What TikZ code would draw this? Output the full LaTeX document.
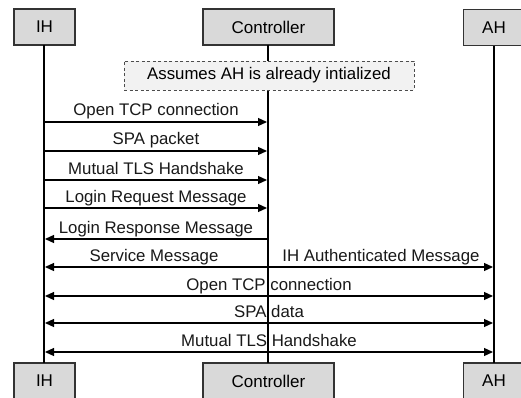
\documentclass[tikz,border=0pt]{standalone}
\usepackage{fontspec}
\setmainfont{Liberation Sans}
\usetikzlibrary{arrows.meta}
\begin{document}
\begin{tikzpicture}[x=1pt,y=-1pt,
  actor/.style={draw=black!80,line width=1.1pt,fill=black!15,minimum width=61pt,minimum height=36pt,inner sep=0pt,font=\fontsize{17}{20}\selectfont},
  lifeline/.style={line width=1.8pt,black},
  msg/.style={line width=1.2pt,-{Triangle[length=9pt,width=8pt]}},
  bimsg/.style={line width=1.2pt,{Triangle[length=9pt,width=8pt]}-{Triangle[length=9pt,width=8pt]}},
  lbl/.style={anchor=base,inner sep=0pt,font=\fontsize{16.8}{20}\selectfont,text=black!90},
  note/.style={draw=black!70,dashed,line width=0.9pt,dash pattern=on 3pt off 2.5pt,fill=black!5,minimum width=290pt,minimum height=29pt,inner sep=0pt,font=\fontsize{16.8}{20}\selectfont}
]
\clip (0,0) rectangle (521,398);
\fill[white] (0,0) rectangle (521,398);

% participants, top and bottom
\node[actor] (ihT) at (44.5,27) {IH};
\node[actor,minimum width=131pt] (ctT) at (268.5,27) {Controller};
\node[actor] (ahT) at (494,27.5) {AH};
\node[actor] (ihB) at (44.5,381) {IH};
\node[actor,minimum width=131pt] (ctB) at (268.5,381) {Controller};
\node[actor] (ahB) at (494,381) {AH};

% lifelines
\coordinate (ihTop) at (44,45);  \coordinate (ihBot) at (44,363);
\coordinate (ctTop) at (268,45); \coordinate (ctBot) at (268,363);
\coordinate (ahTop) at (494,46); \coordinate (ahBot) at (494,363);
\draw[lifeline] (ihTop) -- (ihBot);
\draw[lifeline] (ctTop) -- (ctBot);
\draw[lifeline] (ahTop) -- (ahBot);

% note over the controller
\node[note] (pre) at (269,75.5) {Assumes AH is already intialized};

% message rows (y of each arrow)
\foreach \n/\y in {1/122,2/151,3/180,4/208,5/239,6/267,7/296,8/323,9/352}{
  \coordinate (a\n) at (45,\y);
  \coordinate (c\n) at (267,\y);
  \coordinate (b\n) at (493,\y);
}

% IH <-> Controller
\draw[msg] (a1) -- (c1);
\node[lbl] (l1) at (156,116) {Open TCP connection};
\draw[msg] (a2) -- (c2);
\node[lbl] (l2) at (156,145) {SPA packet};
\draw[msg] (a3) -- (c3);
\node[lbl] (l3) at (156,174) {Mutual TLS Handshake};
\draw[msg] (a4) -- (c4);
\node[lbl] (l4) at (156,202) {Login Request Message};
\draw[msg] (c5) -- (a5);
\node[lbl] (l5) at (156,233) {Login Response Message};

% IH <-> AH
\draw[bimsg] (a6) -- (b6);
\node[lbl] (l6a) at (154,261) {Service Message};
\node[lbl] (l6b) at (381,261) {IH Authenticated Message};
\draw[bimsg] (a7) -- (b7);
\node[lbl] (l7) at (269,290) {Open TCP connection};
\draw[bimsg] (a8) -- (b8);
\node[lbl] (l8) at (269,317) {SPA data};
\draw[bimsg] (a9) -- (b9);
\node[lbl] (l9) at (269,346) {Mutual TLS Handshake};
\end{tikzpicture}
\end{document}
